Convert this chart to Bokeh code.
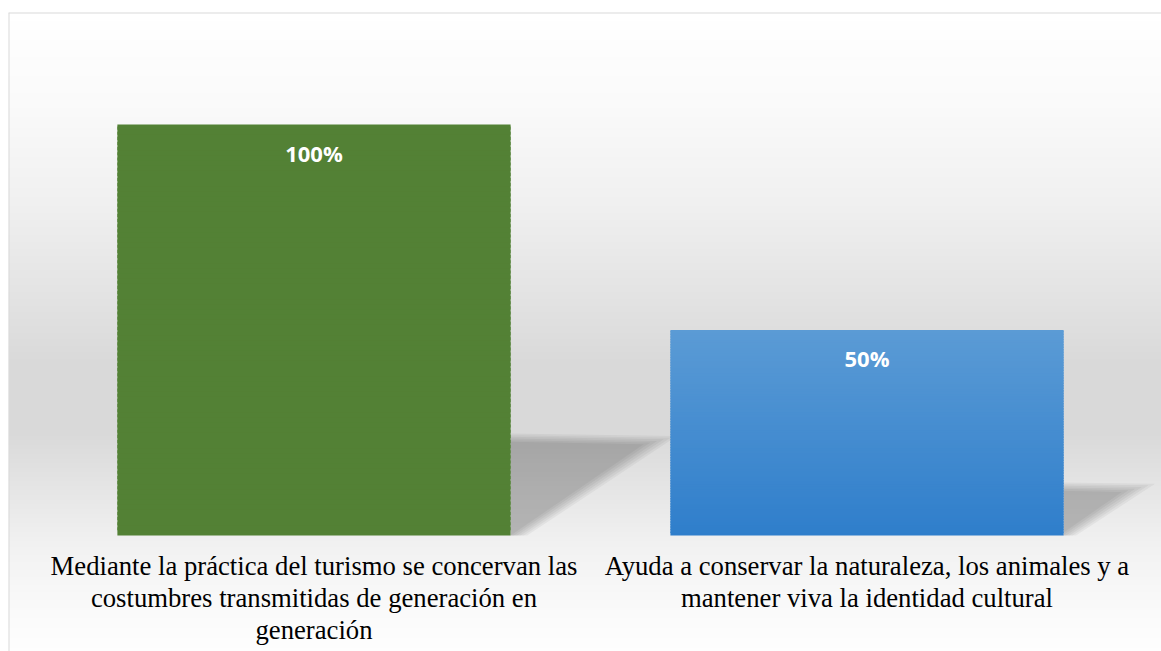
import numpy as np
from bokeh.plotting import figure
from bokeh.models import Range1d, Span
from bokeh.core.properties import value
from bokeh.embed import file_html
from bokeh.resources import INLINE

# ---------------- data ----------------
categories = [
    "Mediante la práctica del turismo se concervan las\ncostumbres transmitidas de generación en\ngeneración",
    "Ayuda a conservar la naturaleza, los animales y a\nmantener viva la identidad cultural",
]
values = [1.0, 0.5]
value_labels = ["100%", "50%"]
bar_top_colors = ["#538135", "#5b9bd5"]
bar_bottom_colors = ["#538135", "#2f7ecb"]

# ---------------- layout / style ----------------
W, H = 1161, 651
X0, X1 = -0.5524, 1.5325
Y0, Y1 = -0.2822, 1.2725
BAR_W = 0.711

p = figure(width=W, height=H, x_range=Range1d(X0, X1), y_range=Range1d(Y0, Y1),
           output_backend="svg", toolbar_location=None,
           x_axis_location=None, y_axis_location=None,
           min_border_left=8, min_border_right=0, min_border_bottom=0, min_border_top=12)
p.grid.visible = False
p.outline_line_color = None
p.background_fill_color = "white"
p.border_fill_color = "white"

# background vertical gradient (styling)
rows = 639
stops_px = [0, 90, 190, 290, 350, 420, 470, 530, 590, 639]
stops_g = [255, 250, 240, 226, 217, 217, 228, 241, 249, 254]
img = np.zeros((rows, 2), dtype=np.uint32)
view = img.view(dtype=np.uint8).reshape((rows, 2, 4))
for r in range(rows):
    g = int(round(np.interp(rows - 1 - r, stops_px, stops_g)))
    view[r, :, 0] = g
    view[r, :, 1] = g
    view[r, :, 2] = g
    view[r, :, 3] = 255
p.image_rgba(image=[img], x=X0, y=Y0, dw=X1 - X0, dh=Y1 - Y0)

xs = np.arange(len(categories))

# perspective shadows (soft, layered)
for x, v in zip(xs, values):
    xr = x + BAR_W / 2
    for j in range(6):
        k = (j - 2.5)
        top = v * 0.238 + k * 0.004
        far = xr + v * 0.271 + k * 0.012
        foot = xr + v * 0.015 + k * 0.006
        p.patch([xr, xr, far, foot], [0, top, top - v * 0.006, 0],
                fill_color="black", fill_alpha=0.045, line_color=None)

# bars (vertical colour gradient drawn in slices)
def hex2rgb(h):
    h = h.lstrip("#")
    return np.array([int(h[i:i + 2], 16) for i in (0, 2, 4)], dtype=float)

n = 80
for x, v, ct, cb in zip(xs, values, bar_top_colors, bar_bottom_colors):
    rt, rb = hex2rgb(ct), hex2rgb(cb)
    lefts, rights, bottoms, tops, cols = [], [], [], [], []
    for i in range(n):
        t = (i + 0.5) / n
        c = rb + (rt - rb) * t
        lefts.append(x - BAR_W / 2)
        rights.append(x + BAR_W / 2)
        bottoms.append(v * i / n)
        tops.append(min(v, v * (i + 1.6) / n))
        cols.append("#%02x%02x%02x" % tuple(int(round(q)) for q in c))
    p.quad(left=lefts, right=rights, bottom=bottoms, top=tops,
           fill_color=cols, line_color=None)

# data labels
p.text(x=xs, y=[v - 0.069 for v in values], text=value_labels,
       text_font=value("Open Sans"), text_font_style="bold", text_font_size="22px",
       text_color="white", text_align="center", text_baseline="middle")

# category labels
p.text(x=xs, y=[-0.037] * len(xs), text=categories,
       text_font=value("Liberation Serif"), text_font_size="26.7px",
       text_color="black", text_align="center", text_baseline="top",
       text_line_height=1.07)

# chart border (left and top visible)
p.add_layout(Span(location=X0, dimension="height", line_color="#d9d9d9", line_width=2))
p.add_layout(Span(location=Y1, dimension="width", line_color="#d9d9d9", line_width=2))

open("out.html", "w").write(file_html(p, INLINE))
